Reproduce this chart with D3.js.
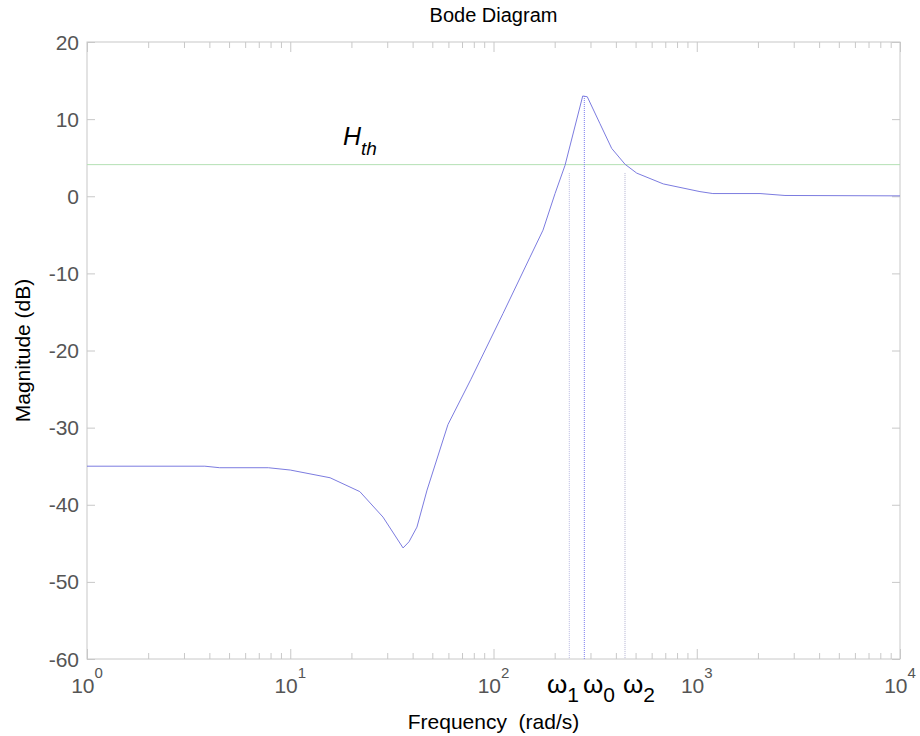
<!DOCTYPE html>
<html>
<head>
<meta charset="utf-8">
<script src="https://cdn.jsdelivr.net/npm/d3@7"></script>
<style>
  body { margin: 0; background: #fff; }
  svg { font-family: "Liberation Sans", Arial, sans-serif; }
  .axis path, .axis line { stroke: #c8c8c8; }
  .tickLabel { fill: #555; font-size: 21px; }
</style>
</head>
<body>
<div id="chart"></div>
<script>
// magnitude response
var freq = [1, 3.8, 4.5, 7.8, 10, 15.7, 22, 28.6, 35.9, 38.4, 42, 47.1, 59.7, 77.2, 111.4, 151.2, 175.2, 200.8, 224.8, 274.8, 289.3, 334.2, 381.5, 443.6, 506.5, 684.5, 1037, 1200, 2048, 2717, 10000]
var magDb = [-35, -35, -35.2, -35.2, -35.5, -36.5, -38.3, -41.6, -45.6, -44.8, -42.9, -38.1, -29.6, -23.8, -15.2, -7.9, -4.4, 0.35, 4.0, 13.0, 12.9, 9.4, 6.2, 4.15, 3.0, 1.6, 0.6, 0.35, 0.35, 0.1, 0.05]

var yTicks = [-60, -50, -40, -30, -20, -10, 0, 10, 20]
var xDecades = [0, 1, 2, 3, 4]

var hth = 4.1
var omegaFreq = [236, 279.8, 443.6]      // w1, w0, w2
var omegaTop = [3, 13, 3]
var omegaNames = ["1", "0", "2"]

var width = 920, height = 736
var margin = {left: 87, right: 20, top: 42, bottom: 77}

var svg = d3.select("#chart").append("svg")
    .attr("width", width)
    .attr("height", height)

var x = d3.scaleLog()
    .domain([1, 1e4])
    .range([margin.left, width - margin.right])

var y = d3.scaleLinear()
    .domain([-60, 20])
    .range([height - margin.bottom, margin.top])

var minor = []
xDecades.slice(0, -1).forEach(function(e) {
	for (var k = 2; k <= 9; k++) minor.push(k * Math.pow(10, e))
})
var major = xDecades.map(d => Math.pow(10, d))

var plotH = y(-60) - y(20)
var plotW = x(1e4) - x(1)

// frame
svg.append("rect")
    .attr("x", x(1))
    .attr("y", y(20))
    .attr("width", plotW)
    .attr("height", plotH)
    .attr("fill", "none")
    .attr("stroke", "#c8c8c8")

// ticks on every side, pointing inward
function tickAxis(axis, tr) {
	svg.append("g")
		.attr("class", "axis")
		.attr("transform", tr)
		.call(axis)
		.call(g => g.select(".domain").remove())
		.call(g => g.selectAll("text").remove())
}

tickAxis(d3.axisBottom(x).tickValues(major).tickSize(-10), `translate(0,${y(-60)})`)
tickAxis(d3.axisBottom(x).tickValues(minor).tickSize(-6), `translate(0,${y(-60)})`)
tickAxis(d3.axisTop(x).tickValues(major).tickSize(-10), `translate(0,${y(20)})`)
tickAxis(d3.axisTop(x).tickValues(minor).tickSize(-6), `translate(0,${y(20)})`)
tickAxis(d3.axisLeft(y).tickValues(yTicks).tickSize(-8), `translate(${x(1)},0)`)
tickAxis(d3.axisRight(y).tickValues(yTicks).tickSize(-8), `translate(${x(1e4)},0)`)

// y tick labels
svg.selectAll(".yLabel")
    .data(yTicks)
    .enter()
    .append("text")
    .attr("class", "tickLabel")
    .attr("x", x(1) - 8)
    .attr("y", d => y(d))
    .attr("dy", "0.36em")
    .attr("text-anchor", "end")
    .text(d => d)

// x tick labels, 10 with exponent
var xl = svg.selectAll(".xLabel")
    .data(xDecades)
    .enter()
    .append("text")
    .attr("class", "tickLabel")
    .attr("x", d => x(Math.pow(10, d)))
    .attr("y", y(-60) + 34)
    .attr("text-anchor", "middle")

xl.append("tspan").text("10")
xl.append("tspan")
    .attr("dy", -15)
    .attr("font-size", 15)
    .text(d => d)

// threshold line
svg.append("line")
    .attr("x1", x(1))
    .attr("x2", x(1e4))
    .attr("y1", y(hth))
    .attr("y2", y(hth))
    .attr("stroke", "#b4e0b4")
    .attr("stroke-width", 1)

// omega markers
var omegaColor = ["#b8b8e0", "#7a7aee", "#b0b0d0"]
svg.selectAll(".omegaLine")
    .data(omegaFreq)
    .enter()
    .append("line")
    .attr("x1", d => x(d))
    .attr("x2", d => x(d))
    .attr("y1", (d, i) => y(omegaTop[i]))
    .attr("y2", y(-60))
    .attr("stroke", (d, i) => omegaColor[i])
    .attr("stroke-dasharray", "1,1")

var line = d3.line()
    .x((d, i) => x(freq[i]))
    .y(d => y(d))

svg.append("path")
    .datum(magDb)
    .attr("d", line)
    .attr("fill", "none")
    .attr("stroke", "#7c7ce0")
    .attr("stroke-width", 1)

// H_th label
var ht = svg.append("text")
    .attr("x", 343)
    .attr("y", 145)
    .attr("font-style", "italic")
    .attr("font-size", 25)
ht.append("tspan").text("H")
ht.append("tspan").attr("dy", 10).attr("font-size", 19).text("th")

// omega labels
var omegaLabelX = [547, 583, 623]
omegaNames.forEach(function(n, i) {
	var t = svg.append("text")
		.attr("x", omegaLabelX[i])
		.attr("y", 693)
		.attr("font-size", 26)
		.attr("fill", "#000")
	t.append("tspan").text("\u03c9")
	t.append("tspan").attr("dy", 9).attr("font-size", 21).text(n)
})

// titles
svg.append("text")
    .attr("x", (x(1) + x(1e4)) / 2)
    .attr("y", 22)
    .attr("text-anchor", "middle")
    .attr("font-size", 20)
    .text("Bode Diagram")

svg.append("text")
    .attr("x", (x(1) + x(1e4)) / 2)
    .attr("y", 729)
    .attr("text-anchor", "middle")
    .attr("font-size", 21)
    .attr("xml:space", "preserve")
    .style("white-space", "pre")
    .text("Frequency  (rad/s)")

svg.append("text")
    .attr("transform", `translate(30,${(y(20) + y(-60)) / 2}) rotate(-90)`)
    .attr("text-anchor", "middle")
    .attr("font-size", 21)
    .text("Magnitude (dB)")
</script>
</body>
</html>
